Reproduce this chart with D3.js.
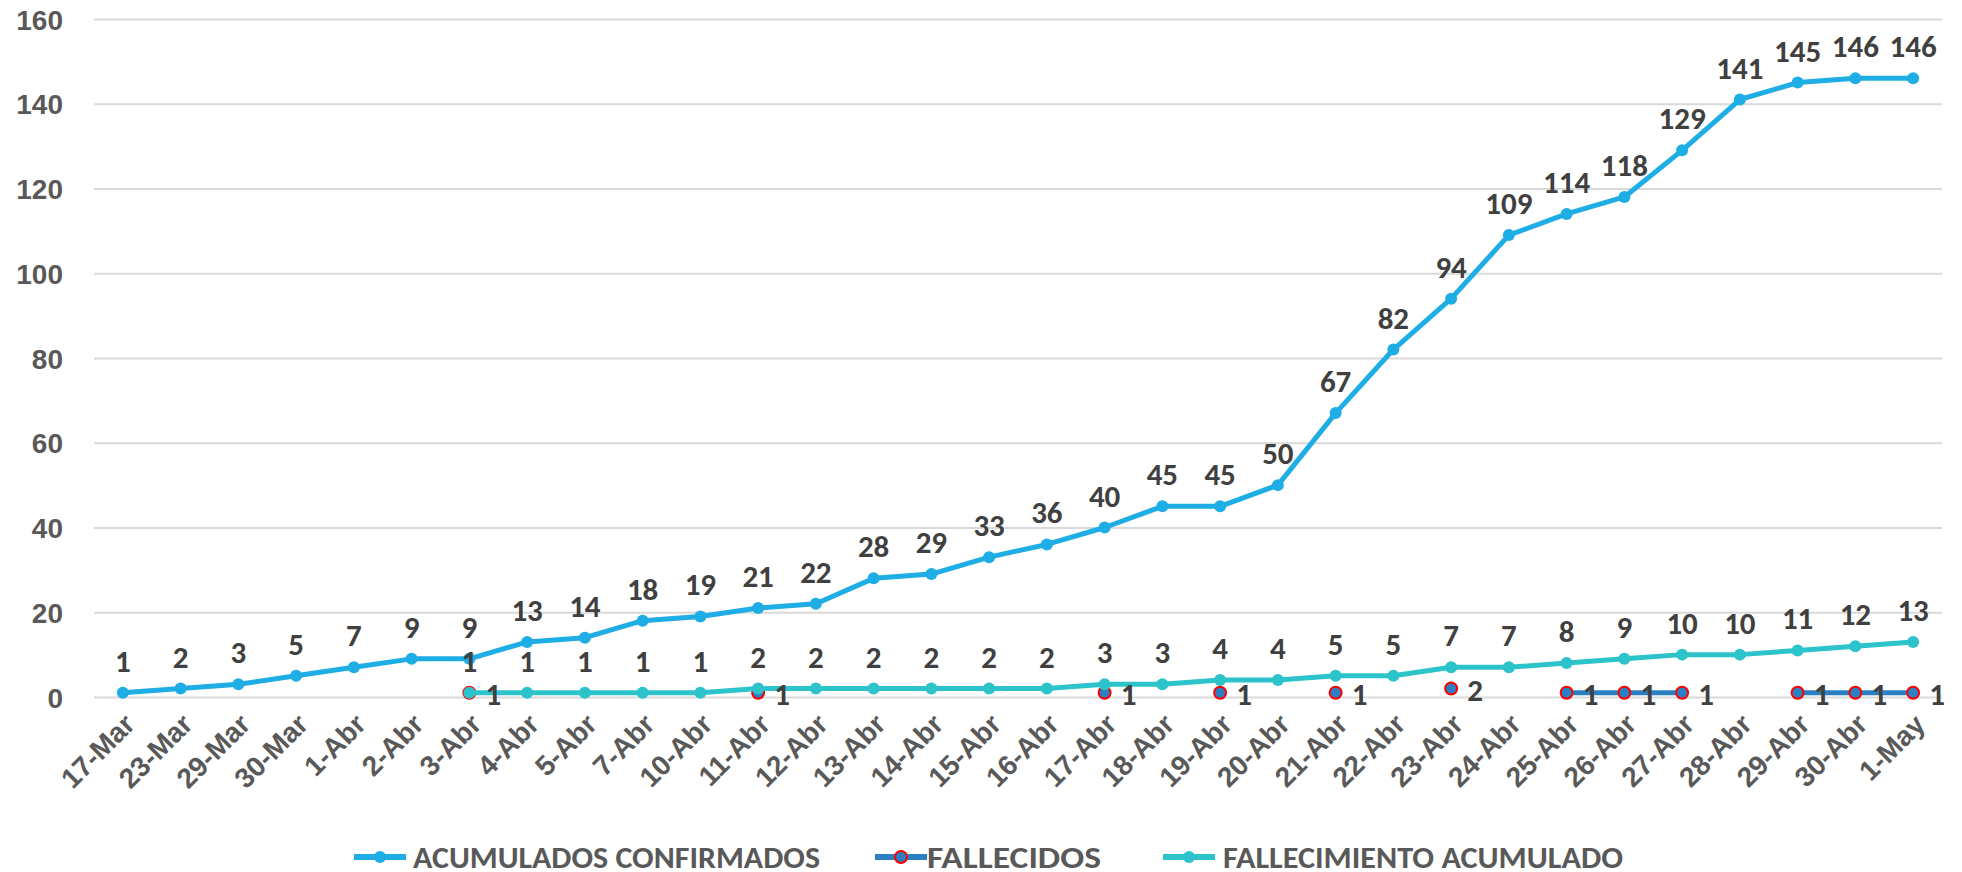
<!DOCTYPE html>
<html>
<head>
<meta charset="utf-8">
<script src="https://cdn.jsdelivr.net/npm/d3@7/dist/d3.min.js"></script>
<style>
html,body{margin:0;padding:0;background:#fff}
svg{display:block;font-family:Carlito,Calibri,"Open Sans",sans-serif}
</style>
</head>
<body>
<svg id="chart" width="1962" height="872"></svg>
<script>
// data
const fechas=["17-Mar","23-Mar","29-Mar","30-Mar","1-Abr","2-Abr","3-Abr","4-Abr","5-Abr","7-Abr","10-Abr","11-Abr","12-Abr","13-Abr","14-Abr","15-Abr","16-Abr","17-Abr","18-Abr","19-Abr","20-Abr","21-Abr","22-Abr","23-Abr","24-Abr","25-Abr","26-Abr","27-Abr","28-Abr","29-Abr","30-Abr","1-May"];
const confirmados=[1,2,3,5,7,9,9,13,14,18,19,21,22,28,29,33,36,40,45,45,50,67,82,94,109,114,118,129,141,145,146,146];
const fallecidos=[null,null,null,null,null,null,1,null,null,null,null,1,null,null,null,null,null,1,null,1,null,1,null,2,null,1,1,1,null,1,1,1];
const fallAcum=[null,null,null,null,null,null,1,1,1,1,1,2,2,2,2,2,2,3,3,4,4,5,5,7,7,8,9,10,10,11,12,13];
const yTicks=[0,20,40,60,80,100,120,140,160];
const seriesNames=["ACUMULADOS CONFIRMADOS","FALLECIDOS","FALLECIMIENTO ACUMULADO"];

const cConf="#1EADE4",cFall="#2B80C3",cAcum="#2CC3CB";
const svg=d3.select("#chart");
const L=94,R=1942,T=19,B=697;

const x=d3.scalePoint().domain(fechas).range([L,R]).padding(0.5);
const y=d3.scaleLinear().domain([0,160]).range([B,T]);

// gridlines
svg.append("g").attr("transform","translate("+L+",0)")
  .call(d3.axisLeft(y).tickValues(yTicks).tickSize(-(R-L)).tickFormat(""))
  .call(g=>g.select(".domain").remove())
  .call(g=>g.selectAll("line").attr("stroke","#D9D9D9").attr("stroke-width",2));

// y labels
svg.append("g").attr("transform","translate(63,0)")
  .call(d3.axisLeft(y).tickValues(yTicks).tickSize(0).tickPadding(0))
  .call(g=>g.select(".domain").remove())
  .call(g=>g.selectAll("text").attr("font-size",28).attr("font-weight","bold").attr("fill","#595959")
    .attr("font-family",null).attr("dy","0.36em"));

// x labels
const xa=svg.append("g").attr("transform","translate(0,"+B+")")
  .call(d3.axisBottom(x).tickSize(0).tickPadding(0));
xa.select(".domain").remove();
xa.selectAll("text").attr("font-size",28).attr("font-weight","bold").attr("fill","#595959")
  .attr("font-family",null).attr("text-anchor","end")
  .attr("transform","translate(6,22) rotate(-45)").attr("y",0).attr("dy","0.36em");

function drawSeries(vals,color,mfill,mstroke){
  const idx=vals.map((v,i)=>({f:fechas[i],v:v}));
  const line=d3.line().defined(d=>d.v!=null).x(d=>x(d.f)).y(d=>y(d.v));
  const g=svg.append("g");
  g.append("path").datum(idx).attr("d",line).attr("fill","none")
    .attr("stroke",color).attr("stroke-width",5).attr("stroke-linejoin","round");
  g.selectAll("circle").data(idx.filter(d=>d.v!=null)).enter().append("circle")
    .attr("cx",d=>x(d.f)).attr("cy",d=>y(d.v)).attr("r",6)
    .attr("fill",mfill).attr("stroke",mstroke).attr("stroke-width",mstroke?2:0);
  return idx.filter(d=>d.v!=null);
}

const pConf=drawSeries(confirmados,cConf,cConf,null);
const pFall=drawSeries(fallecidos,cFall,cFall,"#FF0000");
const pAcum=drawSeries(fallAcum,cAcum,cAcum,null);

// data labels
const lab=svg.append("g").attr("font-size",31).attr("font-weight","bold").attr("fill","#404040");
lab.selectAll(".lc").data(pConf).enter().append("text").attr("text-anchor","middle")
  .attr("x",d=>x(d.f)).attr("y",d=>y(d.v)-21).text(d=>d.v);
lab.selectAll(".la").data(pAcum).enter().append("text").attr("text-anchor","middle")
  .attr("x",d=>x(d.f)).attr("y",d=>y(d.v)-21).text(d=>d.v);
lab.selectAll(".lf").data(pFall).enter().append("text").attr("text-anchor","start")
  .attr("x",d=>x(d.f)+16).attr("y",d=>y(d.v)+12).text(d=>d.v);

// legend
const legX=[354,875,1163];
const legTxt=[[413,820],[927,1101],[1223,1623]];
const leg=svg.append("g");
seriesNames.forEach((n,i)=>{
  const col=[cConf,cFall,cAcum][i];
  const g=leg.append("g").attr("transform","translate("+legX[i]+",857)");
  g.append("line").attr("x1",0).attr("x2",52).attr("y1",0).attr("y2",0)
    .attr("stroke",col).attr("stroke-width",6);
  g.append("circle").attr("cx",26).attr("cy",0).attr("r",6)
    .attr("fill",col).attr("stroke",i==1?"#FF0000":"none").attr("stroke-width",2);
  g.append("text").attr("x",legTxt[i][0]-legX[i]).attr("y",11).attr("font-size",30).attr("font-weight","bold")
    .attr("fill","#595959").attr("textLength",legTxt[i][1]-legTxt[i][0])
    .attr("lengthAdjust","spacingAndGlyphs").text(n);
});
</script>
</body>
</html>
